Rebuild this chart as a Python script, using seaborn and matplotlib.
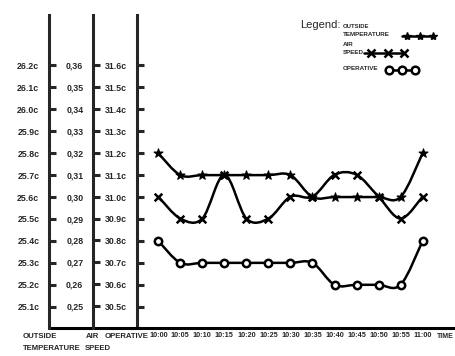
import numpy as np
import pandas as pd
import matplotlib
matplotlib.use("Agg")
import matplotlib.pyplot as plt
import seaborn as sns
from matplotlib.path import Path
from matplotlib.patches import PathPatch
from matplotlib.lines import Line2D

# ---------------- data ----------------
times = ["10:00", "10:05", "10:10", "10:15", "10:20", "10:25", "10:30",
         "10:35", "10:40", "10:45", "10:50", "10:55", "11:00"]
outside_temp = [25.8, 25.7, 25.7, 25.7, 25.7, 25.7, 25.7,
                25.6, 25.6, 25.6, 25.6, 25.6, 25.8]
air_speed = [0.30, 0.29, 0.29, 0.31, 0.29, 0.29, 0.30,
             0.30, 0.31, 0.31, 0.30, 0.29, 0.30]
operative = [30.8, 30.7, 30.7, 30.7, 30.7, 30.7, 30.7,
             30.7, 30.6, 30.6, 30.6, 30.6, 30.8]
outside_ticks = [25.1, 25.2, 25.3, 25.4, 25.5, 25.6, 25.7, 25.8, 25.9, 26.0, 26.1, 26.2]
air_ticks = [0.25, 0.26, 0.27, 0.28, 0.29, 0.30, 0.31, 0.32, 0.33, 0.34, 0.35, 0.36]
op_ticks = [30.5, 30.6, 30.7, 30.8, 30.9, 31.0, 31.1, 31.2, 31.3, 31.4, 31.5, 31.6]

sns.set_style("white")
plt.rcParams["font.family"] = ["Liberation Sans", "DejaVu Sans"]

W, H = 455, 356
fig = plt.figure(figsize=(W / 100, H / 100), dpi=100)
fig.patch.set_facecolor("white")

ax_op = fig.add_axes([137 / W, (H - 328) / H, (W - 137) / W, 313 / H])
ax_out = ax_op.twinx()
ax_air = ax_op.twinx()

xpos = np.arange(len(times))
df = pd.DataFrame({"x": xpos, "time": times, "outside": outside_temp,
                   "air": air_speed, "operative": operative})

LW = 2.2


def smooth_path(x, y):
    pts = np.column_stack([x, y]).astype(float)
    n = len(pts)
    verts = [pts[0]]
    codes = [Path.MOVETO]
    for i in range(n - 1):
        p0 = pts[i - 1] if i > 0 else pts[i]
        p1 = pts[i]
        p2 = pts[i + 1]
        p3 = pts[i + 2] if i + 2 < n else p2
        c1 = p1 + (p2 - p0) / 6.0
        c2 = p2 - (p3 - p1) / 6.0
        verts += [c1, c2, p2]
        codes += [Path.CURVE4] * 3
    return Path(verts, codes)


# curves
for ax, col in [(ax_out, "outside"), (ax_air, "air"), (ax_op, "operative")]:
    ax.add_patch(PathPatch(smooth_path(df["x"], df[col]), facecolor="none",
                           edgecolor="black", lw=1.8, zorder=3))

# markers
sns.scatterplot(data=df, x="x", y="outside", ax=ax_out, marker="*", s=45,
                color="black", edgecolor="black", linewidth=0.8, zorder=4, legend=False)
sns.scatterplot(data=df, x="x", y="air", ax=ax_air, marker="x", s=30,
                color="black", linewidth=1.8, zorder=4, legend=False)
sns.scatterplot(data=df, x="x", y="operative", ax=ax_op, marker="o", s=28,
                facecolor="white", edgecolor="black", linewidth=1.8, zorder=4, legend=False)

# axis limits (aligned scales)
ax_out.set_ylim(25.003, 26.43)
ax_air.set_ylim(0.2400, 0.3830)
ax_op.set_ylim(30.403, 31.83)
ax_op.set_xlim(-0.967, 13.47)

tick_kw = dict(direction="in", length=5, width=2.2, labelsize=6.3, pad=7)

for ax, frac in [(ax_out, -0.2767), (ax_air, -0.1384)]:
    ax.yaxis.set_ticks_position("left")
    ax.yaxis.set_label_position("left")
    ax.spines["left"].set_position(("axes", frac))
    ax.spines["left"].set_visible(True)
    ax.spines["left"].set_linewidth(LW)
    for s in ["right", "top", "bottom"]:
        ax.spines[s].set_visible(False)
    ax.set_ylabel("")
    ax.set_xlabel("")

ax_out.set_yticks(outside_ticks)
ax_out.set_yticklabels([f"{v:.1f}c" for v in outside_ticks], fontweight="bold")
ax_air.set_yticks(air_ticks)
ax_air.set_yticklabels([f"{v:.2f}".replace(".", ",") for v in air_ticks], fontweight="bold")
ax_op.set_yticks(op_ticks)
ax_op.set_yticklabels([f"{v:.1f}c" for v in op_ticks], fontweight="bold")
for ax in (ax_out, ax_air, ax_op):
    ax.tick_params(axis="y", **tick_kw)

for s in ["right", "top"]:
    ax_op.spines[s].set_visible(False)
ax_op.spines["left"].set_linewidth(LW)
ax_op.spines["bottom"].set_visible(False)
ax_op.set_ylabel("")
ax_op.set_xlabel("")
ax_op.set_xticks(xpos)
ax_op.set_xticklabels(times, fontweight="bold")
ax_op.tick_params(axis="x", direction="in", length=5, width=1.6, labelsize=5.2, pad=3)

# bottom baseline spanning from the outside-temperature axis
ax_op.plot([-0.2767, 1.0], [0, 0], transform=ax_op.transAxes, color="black",
           lw=LW, clip_on=False, solid_capstyle="butt", zorder=5)

# axis captions
def ftext(x, y, s, **kw):
    fig.text(x / W, 1 - y / H, s, ha="left", va="center", fontweight="bold", **kw)

ftext(23, 337, "OUTSIDE", fontsize=5.6)
ftext(23, 348, "TEMPERATURE", fontsize=5.6)
ftext(86, 337, "AIR", fontsize=5.6)
ftext(85, 348, "SPEED", fontsize=5.6)
ftext(105, 337, "OPERATIVE", fontsize=5.6)
ftext(437, 337, "TIME", fontsize=5.0)

# legend
fig.text(300 / W, 1 - 25 / H, "Legend:", fontsize=8, ha="left", va="center")
ftext(343, 27, "OUTSIDE", fontsize=4.3)
ftext(343, 35, "TEMPERATURE", fontsize=4.5)
ftext(343, 45, "AIR", fontsize=4.5)
ftext(343, 53, "SPEED", fontsize=4.5)
ftext(343, 69, "OPERATIVE", fontsize=4.5)


def leg_line(xs, y, **kw):
    fig.add_artist(Line2D(np.array(xs) / W, [1 - y / H] * len(xs),
                          transform=fig.transFigure, color="black", lw=1.8, **kw))


leg_line([402, 407, 420, 433], 36, marker="*", markersize=6, markevery=[1, 2, 3])
leg_line([364, 371, 388, 404], 53, marker="x", markersize=6, markeredgewidth=1.8,
         markevery=[1, 2, 3])
leg_line([386, 389, 402, 415], 70, marker="o", markersize=5.5, markeredgewidth=1.8,
         markerfacecolor="white", markeredgecolor="black", markevery=[1, 2, 3])

fig.savefig("out.png", dpi=100, facecolor="white")
